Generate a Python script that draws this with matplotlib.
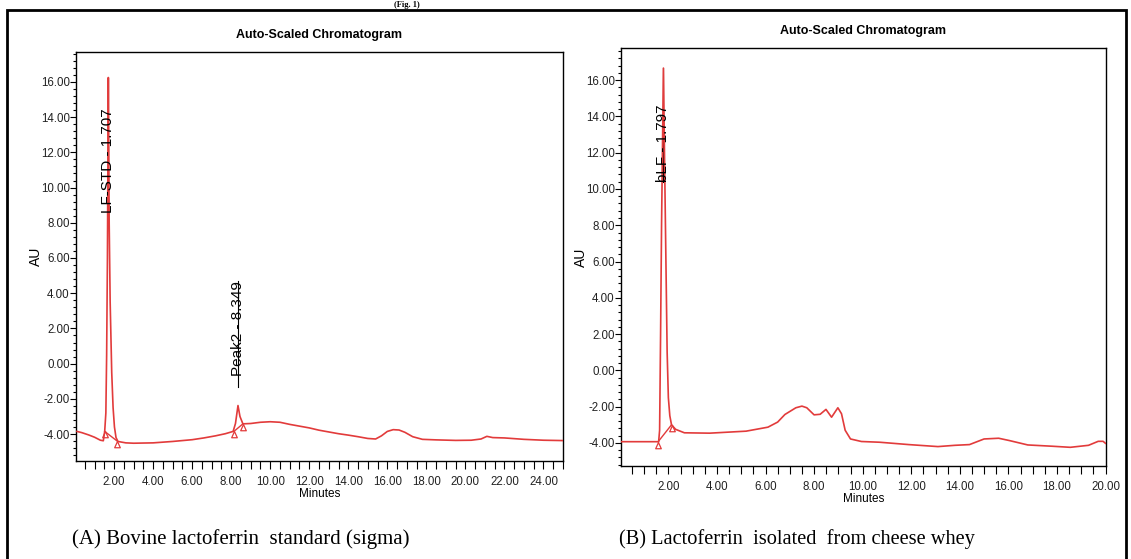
import matplotlib
matplotlib.use("Agg")
import matplotlib.pyplot as plt
from matplotlib.patches import Rectangle
from matplotlib.path import Path
from matplotlib.ticker import MultipleLocator, AutoMinorLocator, FormatStrFormatter

plt.rcParams["axes.unicode_minus"] = False

SANS = ["Liberation Sans", "DejaVu Sans"]
SERIF = ["Liberation Serif", "DejaVu Serif"]
RED = "#e23b3b"

# --- (A) bovine lactoferrin standard: trace (minutes, AU) ---
std_time = [0.1, 0.35, 0.7, 1.0, 1.3, 1.45, 1.52, 1.58, 1.62, 1.66, 1.707, 1.75, 1.80,
            1.88, 1.95, 2.02, 2.1, 2.2, 2.6, 3.0, 4.0, 5.0, 6.0, 6.6, 7.2, 7.7, 8.1,
            8.22, 8.349, 8.45, 8.6, 9.0, 9.5, 10.0, 10.5, 11.0, 11.5, 12.0, 12.5, 13.0,
            13.5, 14.0, 14.5, 15.0, 15.4, 15.7, 16.0, 16.3, 16.6, 16.9, 17.3, 17.8,
            18.5, 19.5, 20.3, 20.8, 21.1, 21.4, 22.0, 23.0, 24.0, 25.0]
std_au = [-3.85, -3.92, -4.05, -4.18, -4.35, -4.38, -3.85, -2.8, 0.5, 6.0, 16.25, 8.0, 3.5,
          -0.5, -2.5, -3.6, -4.2, -4.42, -4.5, -4.52, -4.5, -4.42, -4.32, -4.22, -4.1, -3.98,
          -3.85, -3.4, -2.38, -3.0, -3.42, -3.4, -3.33, -3.3, -3.33, -3.45, -3.55, -3.65,
          -3.78, -3.88, -3.98, -4.06, -4.15, -4.25, -4.28, -4.1, -3.85, -3.75, -3.77, -3.9,
          -4.15, -4.3, -4.33, -4.36, -4.35, -4.28, -4.13, -4.2, -4.22, -4.3, -4.35, -4.37]
std_marks_t = [1.52, 2.14, 8.14, 8.6]
std_marks_au = [-3.85, -4.38, -3.85, -3.42]
std_peaks = ["LF-STD - 1.707", "Peak2 - 8.349"]
std_peak_t = [1.707, 8.349]
std_peak_apex = [16.25, -2.38]

# --- (B) lactoferrin isolated from cheese whey ---
whey_time = [0.07, 1.0, 1.60, 1.64, 1.68, 1.72, 1.797, 1.85, 1.90, 1.95, 2.0, 2.06, 2.13,
             2.3, 2.66, 3.7, 5.2, 6.1, 6.5, 6.8, 7.25, 7.5, 7.7, 8.0, 8.25, 8.49, 8.72,
             8.98, 9.13, 9.28, 9.5, 9.95, 10.7, 11.9, 13.1, 13.8, 14.4, 15.0, 15.6, 16.05,
             16.8, 17.8, 18.55, 19.3, 19.7, 19.9, 20.0]
whey_au = [-3.93, -3.93, -3.93, -3.3, 2.0, 8.0, 16.66, 11.0, 6.0, 1.0, -1.5, -2.5, -3.0,
           -3.25, -3.44, -3.46, -3.35, -3.13, -2.85, -2.43, -2.06, -1.97, -2.06, -2.45,
           -2.42, -2.15, -2.58, -2.06, -2.39, -3.3, -3.78, -3.92, -3.96, -4.09, -4.2, -4.13,
           -4.09, -3.78, -3.74, -3.87, -4.11, -4.18, -4.24, -4.13, -3.91, -3.91, -4.02]
whey_marks_t = [1.58, 2.13]
whey_marks_au = [-3.93, -3.0]
whey_peaks = ["bLF - 1.797"]
whey_peak_t = [1.797]
whey_peak_apex = [16.66]

# hollow triangle with its apex on the point
tri = Path([(0, 0), (-0.45, -1), (0.45, -1), (0, 0)],
           [Path.MOVETO, Path.LINETO, Path.LINETO, Path.CLOSEPOLY])


def draw_panel(ax, t, au, mt, mau, names, pt, apex, label_spans, xlim, ylim):
    ax.plot(t, au, color=RED, lw=1.2, zorder=3)
    # integration baselines between start/end markers
    for i in range(0, len(mt), 2):
        ax.plot(mt[i:i + 2], mau[i:i + 2], color=RED, lw=1.0, zorder=3)
    ax.plot(mt, mau, linestyle="none", marker=tri, markersize=9,
            markerfacecolor="none", markeredgecolor=RED, markeredgewidth=0.9, zorder=4)

    for name, x, top, (lo, hi) in zip(names, pt, apex, label_spans):
        if hi > top:
            # label below apex, leader goes up past the apex
            ax.plot([x, x], [hi, top + 1.05], color="black", lw=0.8, zorder=2)
            ax.text(x, hi, name, rotation=90, ha="center", va="top", fontsize=11,
                    family=SANS, zorder=5)
        else:
            ax.plot([x, x], [top, lo], color="black", lw=0.8, zorder=2)
            ax.text(x, lo, name, rotation=90, ha="center", va="bottom", fontsize=11,
                    family=SANS, zorder=5)

    ax.set_xlim(*xlim)
    ax.set_ylim(*ylim)
    ax.xaxis.set_major_locator(MultipleLocator(2))
    ax.xaxis.set_minor_locator(AutoMinorLocator(4))
    ax.yaxis.set_major_locator(MultipleLocator(2))
    ax.yaxis.set_minor_locator(AutoMinorLocator(5))
    ax.xaxis.set_major_formatter(FormatStrFormatter("%.2f"))
    ax.yaxis.set_major_formatter(FormatStrFormatter("%.2f"))
    ax.tick_params(axis="x", which="both", direction="out", length=6, width=0.8, pad=5)
    ax.tick_params(axis="y", which="major", direction="out", length=4, width=0.8, pad=0.5)
    ax.tick_params(axis="y", which="minor", direction="out", length=2.5, width=0.8)
    for lab in ax.get_xticklabels() + ax.get_yticklabels():
        lab.set_family(SANS)
        lab.set_fontsize(8.3)
        lab.set_color("#222222")
    for sp in ax.spines.values():
        sp.set_linewidth(1.0)
    ax.set_xlabel("Minutes", family=SANS, fontsize=8.5, labelpad=0)
    ax.set_ylabel("AU", family=SANS, fontsize=10)
    ax.yaxis.set_label_coords(-0.068, 0.5)
    ax.set_title("Auto-Scaled Chromatogram", family=SANS, fontweight="bold",
                 fontsize=9, pad=10)


fig = plt.figure(figsize=(11.31, 5.59), dpi=100)
W, H = 1131, 559

ax1 = fig.add_axes([76 / W, 1 - 461 / H, (563 - 76) / W, (461 - 52) / H])
ax2 = fig.add_axes([621 / W, 1 - 466 / H, (1105.5 - 621) / W, (466 - 48) / H])

draw_panel(ax1, std_time, std_au, std_marks_t, std_marks_au, std_peaks, std_peak_t,
           std_peak_apex, [(8.56, 15.5), (-1.65, 4.7)], (0.05, 25.0), (-5.53, 17.7))
draw_panel(ax2, whey_time, whey_au, whey_marks_t, whey_marks_au, whey_peaks, whey_peak_t,
           whey_peak_apex, [(10.36, 15.56)], (0.05, 20.0), (-5.27, 17.77))

# captions under each chromatogram
fig.text(72 / W, 1 - 539 / H, "(A) Bovine lactoferrin  standard (sigma)",
         family=SERIF, fontsize=15, va="center", ha="left")
fig.text(619 / W, 1 - 539 / H, "(B) Lactoferrin  isolated  from cheese whey",
         family=SERIF, fontsize=14.7, va="center", ha="left")

# figure reference above the frame
fig.text(407 / W, 1 - 1 / H, "(Fig. 1)", family=SERIF, fontweight="bold",
         fontsize=6, ha="center", va="top")

# outer frame
fig.patches.append(Rectangle((7 / W, -6 / H), (1126 - 7) / W, (565 - 10) / H,
                             transform=fig.transFigure, fill=False,
                             edgecolor="black", linewidth=2.0))

fig.savefig("out.png", dpi=100, facecolor="white")
